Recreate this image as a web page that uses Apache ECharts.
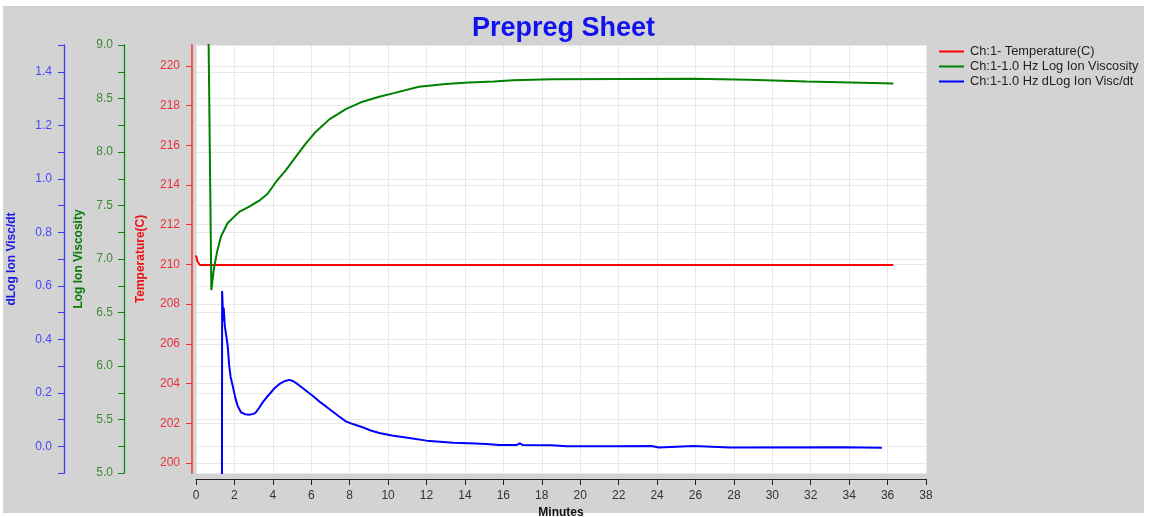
<!DOCTYPE html>
<html>
<head>
<meta charset="utf-8">
<script src="https://cdn.jsdelivr.net/npm/echarts@6/dist/echarts.min.js"></script>
<style>
html,body{margin:0;padding:0;background:#ffffff;}
#bg{position:absolute;left:3px;top:6px;width:1141px;height:507px;background:#d3d3d3;}
#chart{position:absolute;left:0;top:0;width:1151px;height:517px;}
</style>
</head>
<body>
<div id="bg"></div>
<div id="chart"></div>
<script>
// ---- data ----
const chartTitle = 'Prepreg Sheet';
const seriesNames = ['Ch:1- Temperature(C)', 'Ch:1-1.0 Hz Log Ion Viscosity', 'Ch:1-1.0 Hz dLog Ion Visc/dt'];
const axisNames = ['Temperature(C)', 'Log Ion Viscosity', 'dLog Ion Visc/dt'];
const xName = 'Minutes';
const tempTicks = [200, 202, 204, 206, 208, 210, 212, 214, 216, 218, 220];

const tempTime   = [0, 0.08, 0.2, 36.3];
const tempValues = [210.45, 210.15, 209.97, 209.97];

const viscTime   = [0.62, 0.68, 0.74, 0.80, 0.86, 0.95, 1.12, 1.30, 1.64, 1.99, 2.25, 2.77, 3.29, 3.73, 4.16, 4.68, 5.2, 5.72, 6.24, 6.94, 7.8, 8.67, 9.54, 10.3, 11.6, 13.0, 14.2, 15.5, 16.5, 18.5, 25.9, 26.0, 28.8, 28.9, 31.8, 31.9, 34.1, 34.2, 36.3];
const viscValues = [9.6, 8.644, 7.676, 6.71, 6.805, 6.93, 7.085, 7.21, 7.334, 7.396, 7.44, 7.49, 7.545, 7.61, 7.72, 7.83, 7.956, 8.08, 8.19, 8.305, 8.40, 8.47, 8.516, 8.55, 8.61, 8.635, 8.65, 8.66, 8.67, 8.68, 8.684, 8.675, 8.675, 8.66, 8.66, 8.65, 8.65, 8.641, 8.641];

const dviscTime   = [1.345, 1.36, 1.42, 1.44, 1.50, 1.56, 1.65, 1.73, 1.80, 1.91, 2.05, 2.17, 2.34, 2.55, 2.77, 3.0, 3.12, 3.3, 3.47, 3.7, 3.9, 4.1, 4.33, 4.6, 4.85, 5.05, 5.29, 5.6, 6.07, 6.5, 6.94, 7.4, 7.8, 8.2, 8.67, 9.1, 9.54, 10.2, 11.1, 12.0, 12.7, 13.4, 14.2, 15.1, 15.8, 16.7, 16.85, 17.0, 18.5, 19.3, 21.9, 22.0, 23.7, 23.8, 24.1, 24.2, 25.9, 26.0, 27.8, 27.9, 33.7, 33.8, 35.7];
const dviscValues = [-0.6, 0.58, 0.468, 0.518, 0.449, 0.42, 0.375, 0.30, 0.26, 0.226, 0.18, 0.151, 0.127, 0.12, 0.118, 0.121, 0.127, 0.145, 0.164, 0.185, 0.201, 0.218, 0.232, 0.243, 0.248, 0.244, 0.232, 0.215, 0.189, 0.163, 0.139, 0.114, 0.093, 0.082, 0.071, 0.059, 0.0496, 0.040, 0.031, 0.021, 0.017, 0.013, 0.011, 0.0086, 0.005, 0.005, 0.011, 0.005, 0.004, 0.0, 0.0, 0.001, 0.001, -0.005, -0.005, 0.001, 0.001, -0.005, -0.005, -0.004, -0.004, -0.006, -0.006];

function pairs(xs, ys) { return xs.map((x, i) => [x, ys[i]]); }

const FONT = "'Liberation Sans', Arial, sans-serif";
const GRID_COLOR = '#e8e8e8';

const chart = echarts.init(document.getElementById('chart'), null, {renderer: 'canvas'});
chart.setOption({
  animation: false,
  backgroundColor: 'transparent',
  title: {
    text: chartTitle,
    left: 467,
    top: 10,
    textStyle: {color: '#1212f0', fontSize: 27, fontWeight: 'bold', fontFamily: FONT}
  },
  legend: {
    orient: 'vertical',
    left: 933,
    top: 40,
    itemWidth: 25,
    itemHeight: 14,
    itemGap: 2,
    data: seriesNames,
    itemStyle: {opacity: 0, color: 'rgba(0,0,0,0)', borderWidth: 0},
    textStyle: {color: '#222222', fontSize: 12.8, fontFamily: FONT, padding: [0, 0, 0, 1]}
  },
  grid: {
    left: 196, right: 225, top: 45, bottom: 44,
    outerBoundsMode: 'none', containLabel: false,
    show: true, backgroundColor: '#ffffff', borderWidth: 0
  },
  xAxis: {
    type: 'value', min: 0, max: 38, interval: 2, offset: 6,
    name: xName, nameLocation: 'middle', nameGap: 26,
    nameTextStyle: {color: '#111111', fontSize: 12, fontWeight: 'bold', fontFamily: FONT},
    axisLine: {show: true, onZero: false, lineStyle: {color: '#222222', width: 1}},
    axisTick: {show: true, length: 6, lineStyle: {color: '#222222'}},
    axisLabel: {color: '#333333', fontSize: 12, fontFamily: FONT, margin: 11},
    splitLine: {show: true, lineStyle: {color: GRID_COLOR, width: 1}}
  },
  yAxis: [
    {
      type: 'value', position: 'left', offset: 4, min: 199.5, max: 221.05,
      name: axisNames[0], nameLocation: 'middle', nameGap: 45,
      nameTextStyle: {color: '#ee1111', fontSize: 12, fontWeight: 'bold', fontFamily: FONT},
      axisLine: {show: true, onZero: false, lineStyle: {color: '#f05a5a', width: 2}},
      axisTick: {show: true, length: 6, customValues: tempTicks, lineStyle: {color: '#f03030'}},
      axisLabel: {customValues: tempTicks, color: '#e8313a', fontSize: 12, fontFamily: FONT, margin: 12},
      splitLine: {show: true, lineStyle: {color: GRID_COLOR, width: 1}}
    },
    {
      type: 'value', position: 'left', offset: 72, min: 5, max: 9, interval: 0.25,
      name: axisNames[1], nameLocation: 'middle', nameGap: 39,
      nameTextStyle: {color: '#087a08', fontSize: 12, fontWeight: 'bold', fontFamily: FONT},
      axisLine: {show: true, onZero: false, lineStyle: {color: '#0a8a0a', width: 1.3}},
      axisTick: {show: true, length: 6, lineStyle: {color: '#0a8a0a'}},
      axisLabel: {
        color: '#3f8a35', fontSize: 12, fontFamily: FONT, margin: 11,
        formatter: v => { const k = Math.round(v * 4); return k % 2 === 0 ? (k / 4).toFixed(1) : ''; }
      },
      splitLine: {show: true, lineStyle: {color: GRID_COLOR, width: 1}}
    },
    {
      type: 'value', position: 'left', offset: 132, min: -0.1, max: 1.5, interval: 0.1,
      name: axisNames[2], nameLocation: 'middle', nameGap: 46,
      nameTextStyle: {color: '#1a1ae8', fontSize: 12, fontWeight: 'bold', fontFamily: FONT},
      axisLine: {show: true, onZero: false, lineStyle: {color: '#3a3aff', width: 1.3}},
      axisTick: {show: true, length: 6, lineStyle: {color: '#3a3aff'}},
      axisLabel: {
        color: '#4747ff', fontSize: 12, fontFamily: FONT, margin: 12,
        formatter: v => { const k = Math.round(v * 10); return k % 2 === 0 ? (k / 10).toFixed(1) : ''; }
      },
      splitLine: {show: false}
    }
  ],
  series: [
    {
      name: seriesNames[0], type: 'line', yAxisIndex: 0, showSymbol: false, symbol: 'none',
      data: pairs(tempTime, tempValues), clip: true,
      lineStyle: {color: '#ff0000', width: 2}, itemStyle: {color: '#ff0000'}
    },
    {
      name: seriesNames[1], type: 'line', yAxisIndex: 1, showSymbol: false, symbol: 'none',
      data: pairs(viscTime, viscValues), clip: true,
      lineStyle: {color: '#008000', width: 2}, itemStyle: {color: '#008000'}
    },
    {
      name: seriesNames[2], type: 'line', yAxisIndex: 2, showSymbol: false, symbol: 'none',
      data: pairs(dviscTime, dviscValues), clip: true,
      lineStyle: {color: '#0000ff', width: 2}, itemStyle: {color: '#0000ff'}
    }
  ]
});
</script>
</body>
</html>
